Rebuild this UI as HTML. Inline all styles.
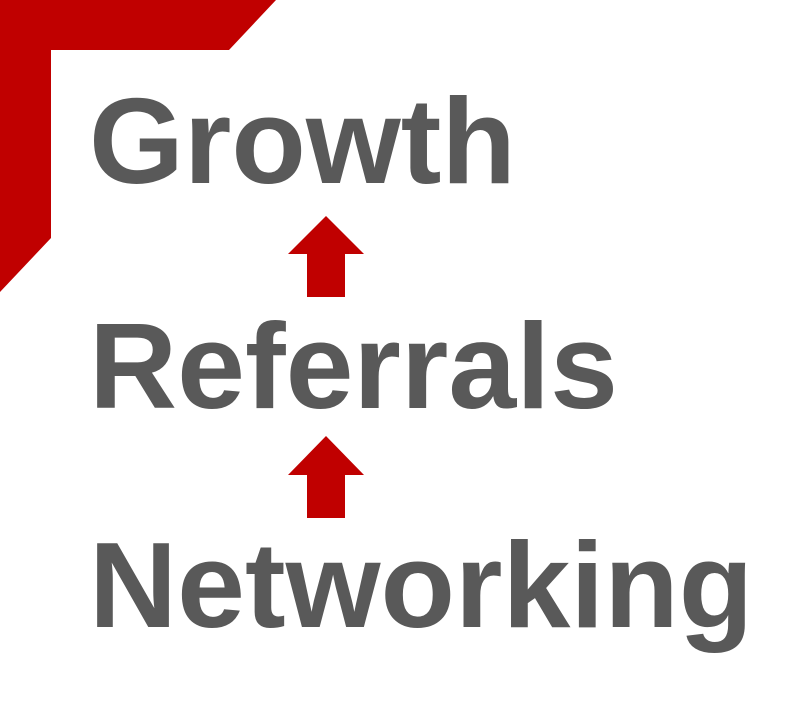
<!DOCTYPE html>
<html><head><style>
body{margin:0;width:797px;height:710px;background:#fff;position:relative;overflow:hidden}
.t{position:absolute;left:89px;font-family:"Liberation Sans",Arial,sans-serif;font-weight:bold;font-size:122px;color:#595959;line-height:1;white-space:nowrap}
</style></head><body>
<svg width="797" height="710" style="position:absolute;left:0;top:0">
<polygon points="0,0 276,0 229,50 51,50 51,238 0,292" fill="#c00000"/>
<polygon points="326,216 364,254 345,254 345,297 307,297 307,254 288,254" fill="#c00000"/>
<polygon points="326,436 364,475 345,475 345,518 307,518 307,475 288,475" fill="#c00000"/>
</svg>
<div class="t" style="top:80px">Growth</div>
<div class="t" style="top:305px">Referrals</div>
<div class="t" style="top:524px">Networking</div>
</body></html>
